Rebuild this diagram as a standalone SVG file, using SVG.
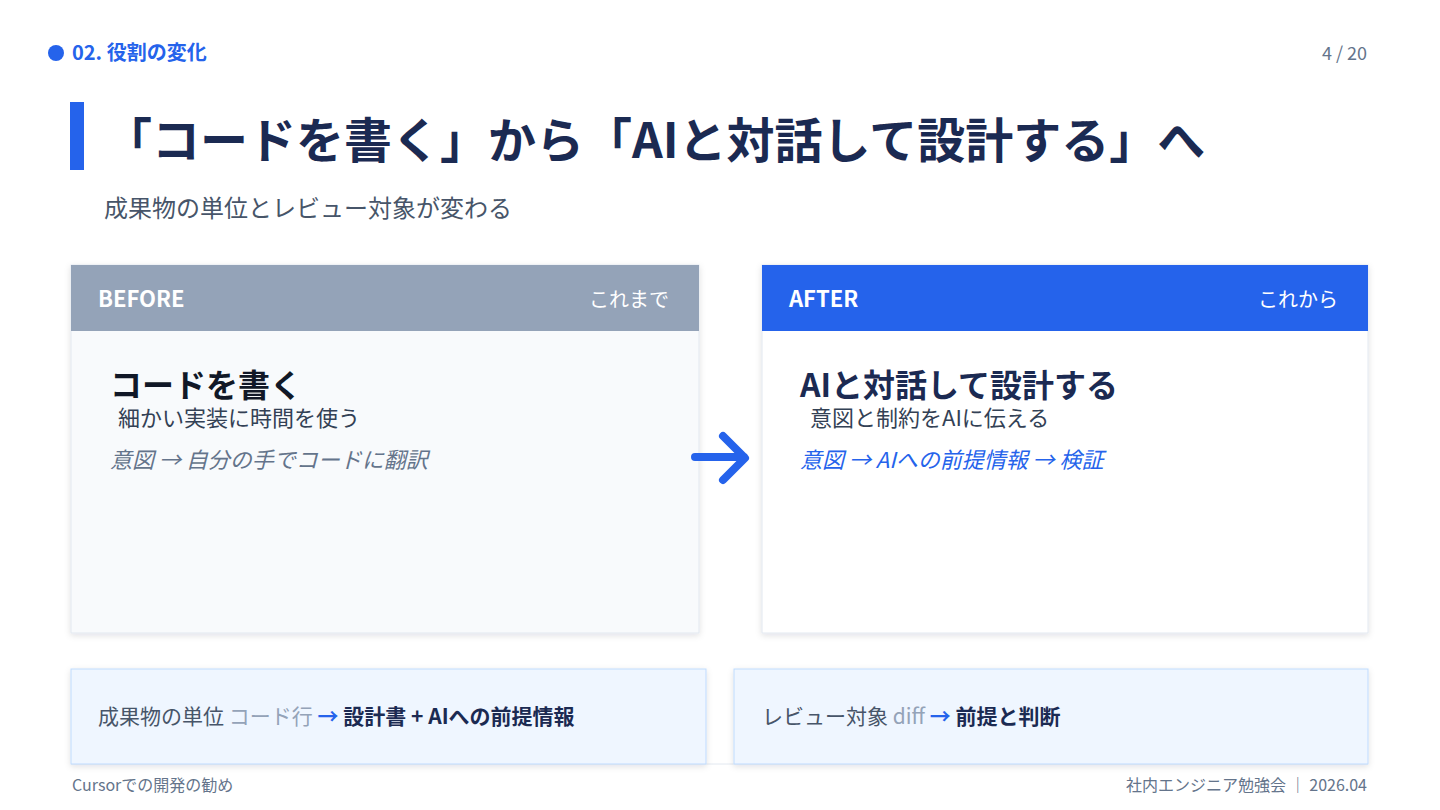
<svg xmlns="http://www.w3.org/2000/svg" width="1440" height="810" viewBox="0 0 1440 810">
<defs>
<filter id="sh" x="-5%" y="-5%" width="110%" height="115%">
<feDropShadow dx="0" dy="2" stdDeviation="3" flood-color="#0F172A" flood-opacity="0.12"/>
</filter>
<style>
text{font-family:"Noto Sans CJK JP","Noto Sans",sans-serif;}
.b{font-weight:700;}
.hdr{fill:#FFFFFF;font-size:22px;font-weight:700;}
.hdrr{fill:#FFFFFF;font-size:20px;text-anchor:end;}
.sub{fill:#334155;font-size:22px;}
.it{font-size:22px;font-style:italic;}
.foot{fill:#64748B;font-size:16px;}
</style>
</defs>
<rect x="0" y="0" width="1440" height="810" fill="#FFFFFF"/>
<g id="topbar">
<circle cx="56" cy="53" r="8" fill="#2563EB"/>
<text x="72" y="60" font-size="20" class="b" fill="#2563EB">02. 役割の変化</text>
<text x="1367" y="60" font-size="18" fill="#64748B" text-anchor="end">4 / 20</text>
</g>
<g id="title">
<rect x="70" y="102" width="14" height="68" fill="#2563EB"/>
<text x="104" y="158" font-size="48" class="b" fill="#1B2A52">「コードを書く」から「AIと対話して設計する」へ</text>
<text x="104" y="217" font-size="24" fill="#475569">成果物の単位とレビュー対象が変わる</text>
</g>
<line x1="71" y1="764" x2="1368" y2="764" stroke="#E2E8F0" stroke-width="1"/>
<g id="before">
<rect x="71" y="265" width="628" height="368" fill="#F8FAFC" stroke="#E2E8F0" filter="url(#sh)"/>
<rect x="71" y="265" width="628" height="66" fill="#94A3B8"/>
<text x="98" y="307" class="hdr">BEFORE</text>
<text x="669" y="307" class="hdrr">これまで</text>
<text x="110" y="397" font-size="32" class="b" fill="#111827">コードを書く</text>
<text x="118" y="426" class="sub">細かい実装に時間を使う</text>
<text x="110" y="468" class="it" fill="#64748B">意図 → 自分の手でコードに翻訳</text>
</g>
<g id="after">
<rect x="762" y="265" width="606" height="368" fill="#FFFFFF" stroke="#E2E8F0" filter="url(#sh)"/>
<rect x="762" y="265" width="606" height="66" fill="#2563EB"/>
<text x="789" y="307" class="hdr">AFTER</text>
<text x="1338" y="307" class="hdrr">これから</text>
<text x="800" y="397" font-size="32" class="b" fill="#1B2A52">AIと対話して設計する</text>
<text x="810" y="426" class="sub">意図と制約をAIに伝える</text>
<text x="800" y="468" class="it" fill="#2563EB">意図 → AIへの前提情報 → 検証</text>
</g>
<g id="connectors">
<path d="M695 457 H744 M723 436 L745 458 L723 480" fill="none" stroke="#2563EB" stroke-width="8" stroke-linecap="round" stroke-linejoin="round"/>
</g>
<g id="unit">
<rect x="71" y="669" width="635" height="95" fill="#EFF6FF" stroke="#BFDBFE" filter="url(#sh)"/>
<text x="98" y="724" font-size="21"><tspan fill="#475569">成果物の単位 </tspan><tspan fill="#94A3B8">コード行</tspan><tspan fill="#2563EB" class="b"> → </tspan><tspan fill="#1B2A52" class="b">設計書 + AIへの前提情報</tspan></text>
</g>
<g id="review">
<rect x="734" y="669" width="634" height="95" fill="#EFF6FF" stroke="#BFDBFE" filter="url(#sh)"/>
<text x="762" y="724" font-size="21"><tspan fill="#475569">レビュー対象 </tspan><tspan fill="#94A3B8">diff</tspan><tspan fill="#2563EB" class="b"> → </tspan><tspan fill="#1B2A52" class="b">前提と判断</tspan></text>
</g>
<g id="footer">
<text x="72" y="791" class="foot">Cursorでの開発の勧め</text>
<text x="1367" y="791" class="foot" text-anchor="end">社内エンジニア勉強会 ｜ 2026.04</text>
</g>
</svg>
